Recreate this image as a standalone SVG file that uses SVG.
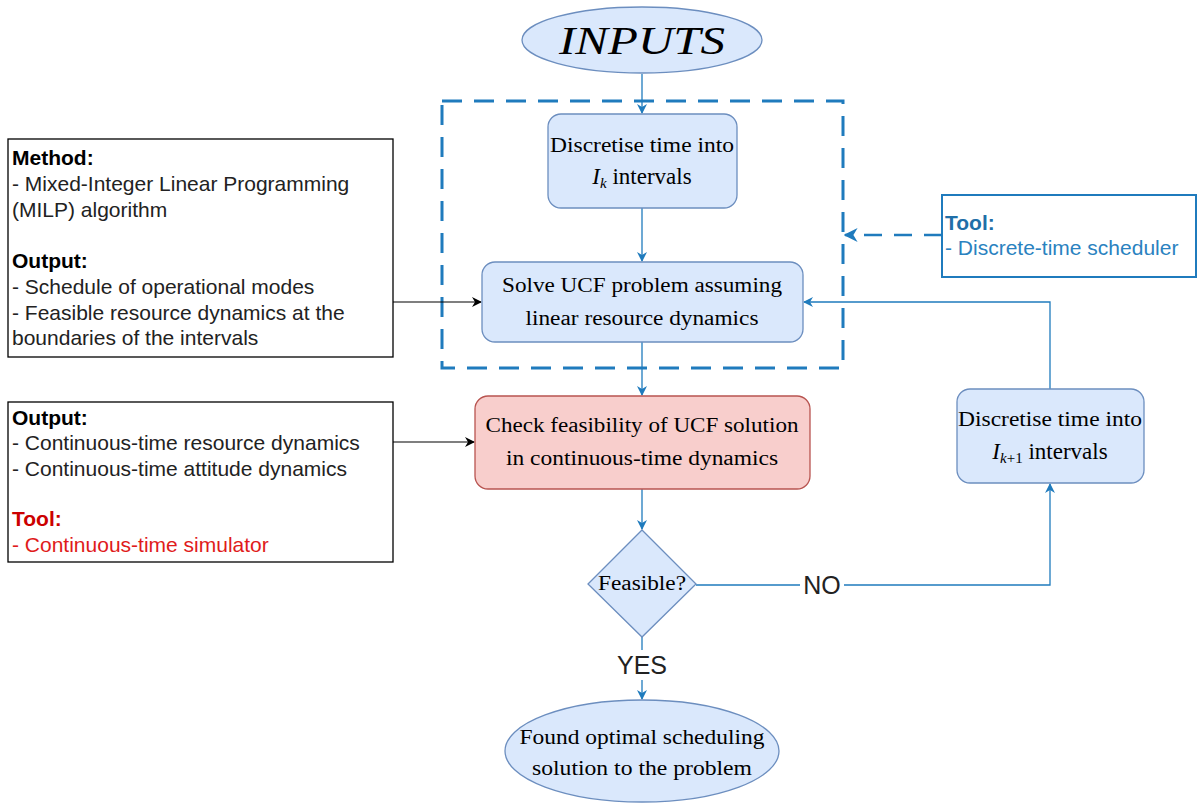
<svg xmlns="http://www.w3.org/2000/svg" width="1198" height="805" viewBox="0 0 1198 805">
<defs>
<style>
.node{fill:#dae8fc;stroke:#6c8ebf;stroke-width:1.3}
.red{fill:#f8cecc;stroke:#b85450;stroke-width:1.3}
.box{fill:#fff;stroke:#000;stroke-width:1.3}
.conn{fill:none;stroke:#1f7bbd;stroke-width:1.3}
.blk{fill:none;stroke:#000;stroke-width:1.2}
.dash{fill:none;stroke:#1f7bbd;stroke-width:3;stroke-dasharray:20 12}
.serif{font-family:"Liberation Serif","DejaVu Serif",serif;font-size:20px;fill:#000;text-anchor:middle}
.sans{font-family:"Liberation Sans",Arial,sans-serif;font-size:21px;fill:#222}
.b{font-weight:bold}
.lab{font-family:"Liberation Sans",Arial,sans-serif;font-size:25px;fill:#222;text-anchor:middle}
.sub{font-size:15px}
.n22{font-size:23px}
</style>
<marker id="arB" viewBox="0 0 10 10" refX="9" refY="5" markerWidth="10" markerHeight="10" markerUnits="userSpaceOnUse" orient="auto">
<path d="M0,0 L10,5 L0,10 L3,5 Z" fill="#1f7bbd"/>
</marker>
<marker id="arK" viewBox="0 0 10 10" refX="9" refY="5" markerWidth="10" markerHeight="10" markerUnits="userSpaceOnUse" orient="auto">
<path d="M0,0 L10,5 L0,10 L3,5 Z" fill="#000"/>
</marker>
<marker id="arD" viewBox="0 0 10 10" refX="9" refY="5" markerWidth="14" markerHeight="14" markerUnits="userSpaceOnUse" orient="auto">
<path d="M0,0 L10,5 L0,10 L3,5 Z" fill="#1f7bbd"/>
</marker>
</defs>
<rect width="1198" height="805" fill="#fff"/>

<g id="group-frame">
<rect class="dash" x="442" y="101" width="401" height="267"/>
</g>

<g id="connectors">
<path class="conn" d="M642,74 L642,113" marker-end="url(#arB)"/>
<path class="conn" d="M642,208 L642,261" marker-end="url(#arB)"/>
<path class="conn" d="M642,342 L642,395" marker-end="url(#arB)"/>
<path class="conn" d="M642,489 L642,529" marker-end="url(#arB)"/>
<path class="conn" d="M642,637 L642,699" marker-end="url(#arB)"/>
<path class="conn" d="M696,585 L1050,585 L1050,484" marker-end="url(#arB)"/>
<path class="conn" d="M1050,389 L1050,302 L804,302" marker-end="url(#arB)"/>
<path class="blk" d="M393,302 L481,302" marker-end="url(#arK)"/>
<path class="blk" d="M393,442 L474,442" marker-end="url(#arK)"/>
<path fill="none" stroke="#1f7bbd" stroke-width="2.5" stroke-dasharray="18 12" d="M942,235 L845,235" marker-end="url(#arD)"/>
<rect x="800" y="570" width="44" height="30" fill="#fff"/>
<text class="lab" x="822" y="594">NO</text>
<rect x="612" y="650" width="60" height="30" fill="#fff"/>
<text class="lab" x="642" y="674">YES</text>
</g>

<g id="node-inputs">
<ellipse class="node" cx="642" cy="40" rx="120" ry="33"/>
<text x="642" y="54" font-family="'Liberation Serif','DejaVu Serif',serif" font-style="italic" font-size="40" text-anchor="middle" textLength="166" lengthAdjust="spacingAndGlyphs">INPUTS</text>
</g>

<g id="node-discretise-k">
<rect class="node" x="548" y="114" width="189" height="94" rx="13"/>
<text class="serif" x="642" y="152" textLength="184" lengthAdjust="spacingAndGlyphs">Discretise time into</text>
<text class="serif" x="642" y="184"><tspan font-style="italic" class="n22">I</tspan><tspan font-style="italic" class="sub" dy="4">k</tspan><tspan class="n22" dy="-4"> intervals</tspan></text>
</g>

<g id="node-solve">
<rect class="node" x="482" y="262" width="321" height="80" rx="13"/>
<text class="serif" x="642" y="292" textLength="280" lengthAdjust="spacingAndGlyphs">Solve UCF problem assuming</text>
<text class="serif" x="642" y="325" textLength="233" lengthAdjust="spacingAndGlyphs">linear resource dynamics</text>
</g>

<g id="node-check">
<rect class="red" x="475" y="396" width="335" height="93" rx="13"/>
<text class="serif" x="642" y="432" textLength="313" lengthAdjust="spacingAndGlyphs">Check feasibility of UCF solution</text>
<text class="serif" x="642" y="465" textLength="272" lengthAdjust="spacingAndGlyphs">in continuous-time dynamics</text>
</g>

<g id="node-feasible">
<polygon class="node" points="642,530 696,584 642,637 588,584"/>
<text class="serif" x="642" y="590" textLength="88" lengthAdjust="spacingAndGlyphs">Feasible?</text>
</g>

<g id="node-found">
<ellipse class="node" cx="642" cy="751" rx="137" ry="51"/>
<text class="serif" x="642" y="744" textLength="245" lengthAdjust="spacingAndGlyphs">Found optimal scheduling</text>
<text class="serif" x="642" y="775" textLength="220" lengthAdjust="spacingAndGlyphs">solution to the problem</text>
</g>

<g id="node-discretise-k1">
<rect class="node" x="957" y="389" width="187" height="94" rx="13"/>
<text class="serif" x="1050" y="426" textLength="184" lengthAdjust="spacingAndGlyphs">Discretise time into</text>
<text class="serif" x="1050" y="459"><tspan font-style="italic" class="n22">I</tspan><tspan font-style="italic" class="sub" dy="4">k</tspan><tspan class="sub">+1</tspan><tspan class="n22" dy="-4"> intervals</tspan></text>
</g>

<g id="node-method">
<rect class="box" x="8" y="139" width="385" height="218"/>
<text class="sans b" x="12" y="165" style="fill:#000">Method:</text>
<text class="sans" x="12" y="191">- Mixed-Integer Linear Programming</text>
<text class="sans" x="12" y="217">(MILP) algorithm</text>
<text class="sans b" x="12" y="268" style="fill:#000">Output:</text>
<text class="sans" x="12" y="294">- Schedule of operational modes</text>
<text class="sans" x="12" y="320">- Feasible resource dynamics at the</text>
<text class="sans" x="12" y="345">boundaries of the intervals</text>
</g>

<g id="node-output">
<rect class="box" x="8" y="402" width="385" height="160"/>
<text class="sans b" x="12" y="425" style="fill:#000">Output:</text>
<text class="sans" x="12" y="450">- Continuous-time resource dynamics</text>
<text class="sans" x="12" y="476">- Continuous-time attitude dynamics</text>
<text class="sans b" x="12" y="526" style="fill:#cc0000">Tool:</text>
<text class="sans" x="12" y="552" style="fill:#e01b1b">- Continuous-time simulator</text>
</g>

<g id="node-tool">
<rect x="942" y="195" width="254" height="82" fill="#fff" stroke="#1f7bbd" stroke-width="2"/>
<text class="sans b" x="945" y="230" style="fill:#1f6fa8">Tool:</text>
<text class="sans" x="945" y="255" style="fill:#2a82c0">- Discrete-time scheduler</text>
</g>
</svg>
